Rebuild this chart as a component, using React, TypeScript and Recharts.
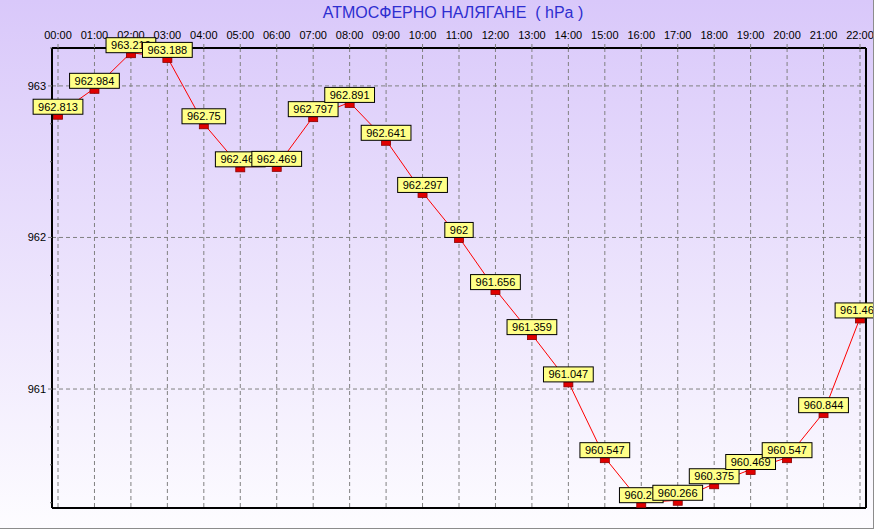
import { LineChart, Line, XAxis, YAxis, CartesianGrid } from 'recharts'

const hours = [
  '00:00', '01:00', '02:00', '03:00', '04:00', '05:00', '06:00', '07:00',
  '08:00', '09:00', '10:00', '11:00', '12:00', '13:00', '14:00', '15:00',
  '16:00', '17:00', '18:00', '19:00', '20:00', '21:00', '22:00',
]

const pressure = [
  962.813, 962.984, 963.219, 963.188, 962.75, 962.466, 962.469, 962.797,
  962.891, 962.641, 962.297, 962, 961.656, 961.359, 961.047, 960.547,
  960.25, 960.266, 960.375, 960.469, 960.547, 960.844, 961.469,
]

const yMajorTicks = [961, 962, 963]
const yTicks = [
  960.25, 960.5, 960.75, 961, 961.25, 961.5, 961.75, 962,
  962.25, 962.5, 962.75, 963, 963.25,
]
const yDomain = [960.215, 963.25]

const title = 'АТМОСФЕРНО НАЛЯГАНЕ  ( hPa )'

const data = hours.map((time, i) => ({ time, value: pressure[i] }))

const FONT = '"Liberation Sans", Arial, sans-serif'

let ctx: CanvasRenderingContext2D | null = null
function textWidth(s: string) {
  if (!ctx) ctx = document.createElement('canvas').getContext('2d')
  if (!ctx) return s.length * 6
  ctx.font = `11px ${FONT}`
  return ctx.measureText(s).width
}

function Marker(props: { cx?: number; cy?: number; index?: number }) {
  const { cx, cy, index } = props
  if (cx === undefined || cy === undefined) return <g key={index} />
  return (
    <rect key={index} x={cx - 4.5} y={cy} width={9} height={5} fill="#e00000" stroke="#8a0000" strokeWidth={0.8} />
  )
}

function ValueBox(props: { x?: number; y?: number; value?: number; index?: number }) {
  const { x, y, value, index } = props
  if (x === undefined || y === undefined) return null
  const s = String(value)
  const w = textWidth(s) + 10
  return (
    <g key={index}>
      <rect x={x - w / 2} y={y - 15} width={w} height={15} fill="#ffff88" stroke="#000" strokeWidth={1} />
      <text x={x} y={y - 3.5} textAnchor="middle" fontSize={11} fontFamily={FONT} fill="#000">
        {s}
      </text>
    </g>
  )
}

function YTick(props: { x?: number; y?: number; payload?: { value: number } }) {
  const { x = 0, y = 0, payload } = props
  const v = payload?.value ?? 0
  if (!yMajorTicks.includes(v)) {
    return <line x1={x + 4} x2={x + 6} y1={y} y2={y} stroke="#606060" />
  }
  return (
    <g>
      <line x1={x + 2} x2={x + 6} y1={y} y2={y} stroke="#808080" />
      <text x={x} y={y + 4} textAnchor="end" fontSize={11} fontFamily={FONT} fill="#000">
        {v}
      </text>
    </g>
  )
}

function XTick(props: { x?: number; y?: number; payload?: { value: string } }) {
  const { x = 0, y = 0, payload } = props
  return (
    <text x={x} y={y} textAnchor="middle" fontSize={11} fontFamily={FONT} fill="#000">
      {payload?.value}
    </text>
  )
}

export default function App() {
  return (
    <div
      style={{
        position: 'absolute',
        left: 0,
        top: 0,
        width: 874,
        height: 529,
        boxSizing: 'border-box',
        background: 'linear-gradient(#d9c8fa, #fdfcff)',
        borderRight: '1px solid #8c8c8c',
        borderBottom: '1px solid #8c8c8c',
        overflow: 'hidden',
      }}
    >
      <div
        style={{
          position: 'absolute',
          left: 16,
          top: 4,
          width: 874,
          textAlign: 'center',
          color: '#2e2ed0',
          fontSize: 16,
          fontFamily: FONT,
          whiteSpace: 'pre',
        }}
      >
        {title}
      </div>
      <LineChart width={874} height={529} data={data} margin={{ top: 28, right: 7, left: 0, bottom: 20 }}>
        <CartesianGrid
          stroke="#808080"
          strokeDasharray="4 3"
          horizontalValues={yMajorTicks}
        />
        <XAxis
          dataKey="time"
          orientation="top"
          height={20}
          padding={{ left: 6, right: 6 }}
          interval={0}
          tickSize={4}
          tickMargin={5}
          tick={<XTick />}
          tickLine={{ stroke: '#808080' }}
          axisLine={{ stroke: '#000', strokeWidth: 2 }}
        />
        <XAxis
          xAxisId="frame"
          dataKey="time"
          orientation="bottom"
          height={1}
          tick={false}
          tickLine={false}
          axisLine={{ stroke: '#000', strokeWidth: 2 }}
        />
        <YAxis
          type="number"
          domain={yDomain}
          ticks={yTicks}
          allowDataOverflow
          width={52}
          interval={0}
          tickSize={4}
          tickMargin={2}
          tickLine={false}
          tick={<YTick />}
          axisLine={{ stroke: '#000', strokeWidth: 2 }}
        />
        <YAxis
          yAxisId="frame"
          orientation="right"
          type="number"
          domain={yDomain}
          width={1}
          tick={false}
          tickLine={false}
          axisLine={{ stroke: '#000', strokeWidth: 2 }}
        />
        <Line
          dataKey="value"
          type="linear"
          stroke="#ff0000"
          strokeWidth={1}
          dot={(p: any) => <Marker key={p.index} {...p} />}
          activeDot={false}
          label={(p: any) => <ValueBox key={p.index} {...p} />}
          isAnimationActive={false}
        />
      </LineChart>
    </div>
  )
}
